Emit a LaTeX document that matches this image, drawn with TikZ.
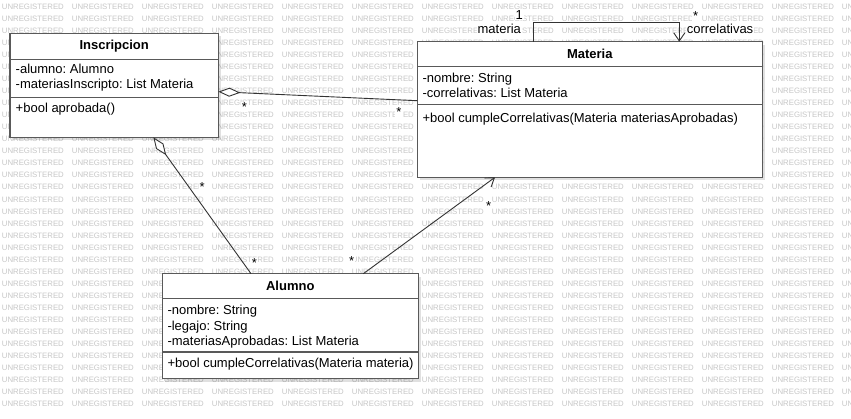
\documentclass[tikz,border=0pt]{standalone}
\usepackage{fontspec}
\setmainfont{Liberation Sans}
\frenchspacing
\usetikzlibrary{arrows.meta, calc, shadows}
\tikzset{
    my-class/.style={
        rectangle, draw=black!65, line width=1.5pt, fill=white, inner sep=0pt, outer sep=0pt,
        drop shadow={shadow xshift=3pt, shadow yshift=-3pt, fill=black, opacity=0.12}
    },
    my-divider/.style={
        draw=black!65, line width=1.5pt
    },
    my-title/.style={
        font=\fontsize{13}{15}\selectfont\bfseries, inner sep=0pt, anchor=base
    },
    my-member/.style={
        font=\fontsize{13}{15}\selectfont, inner sep=0pt, anchor=base west
    },
    my-link/.style={
        draw=black!80, line width=0.9pt
    },
    my-aggregation/.style={
        my-link, {Diamond[fill=white, length=22pt, width=9pt]}-
    },
    my-navigable/.style={
        my-link, -{Straight Barb[length=8pt, width=11pt]}
    },
    my-multiplicity/.style={
        font=\fontsize{13}{15}\selectfont, fill=white, inner sep=1pt
    },
    my-watermark/.style={
        font=\fontsize{7.8}{8}\selectfont, text=black!22, inner sep=0pt, anchor=west
    },
}

\begin{document}
\begin{tikzpicture}[x=1pt, y=-1pt]

        % PAGE AND WATERMARK (SKIP WORDS THAT A CLASS BOX HIDES) --------------------------------------
        \path[fill=white, use as bounding box] (0, 0) rectangle (851, 418);
        \foreach \row in {0,...,33} {
            \foreach \col in {0,...,12} {
                \pgfmathsetmacro\wx{1.7 + 70*\col}
                \pgfmathsetmacro\wy{6.7 + 12.04*\row}
                \pgfmathtruncatemacro\wmhidden{
                    ((\wx >= 10)    && (\wx + 62 <= 218.3) && (\wy >= 36.3)  && (\wy <= 134.3)) ||
                    ((\wx >= 417.3) && (\wx + 62 <= 762.3) && (\wy >= 44.7)  && (\wy <= 174.3)) ||
                    ((\wx >= 162.3) && (\wx + 62 <= 418.3) && (\wy >= 276.7) && (\wy <= 375.5))}
                \ifnum\wmhidden=0
                    \node[my-watermark] (WM-\row-\col) at (\wx, \wy) {UNREGISTERED};
                \fi
            }
        }

        % CLASS INSCRIPCION ---------------------------------------------------------------------------
        \node[my-class, minimum width=208.3pt, minimum height=104pt] (INSCRIPCION) at (114.2, 85.3) {};
        \draw[my-divider] ($(INSCRIPCION.north west) + (0, 26)$)   -- ($(INSCRIPCION.north east) + (0, 26)$);
        \draw[my-divider] ($(INSCRIPCION.north west) + (0, 64.4)$) -- ($(INSCRIPCION.north east) + (0, 64.4)$);
        \node[my-title]  (INSCTITLE) at ($(INSCRIPCION.north)      + (0, 16.3)$) {Inscripcion};
        \node[my-member] (INSCATTR1) at ($(INSCRIPCION.north west) + (5.5, 40.5)$) {-alumno: Alumno};
        \node[my-member] (INSCATTR2) at ($(INSCRIPCION.north west) + (5.5, 54.9)$) {-materiasInscripto: List Materia};
        \node[my-member] (INSCOPER1) at ($(INSCRIPCION.north west) + (5.5, 78.8)$) {+bool aprobada()};

        % CLASS MATERIA -------------------------------------------------------------------------------
        \node[my-class, minimum width=345pt, minimum height=135.6pt] (MATERIA) at (589.8, 109.5) {};
        \draw[my-divider] ($(MATERIA.north west) + (0, 25)$)   -- ($(MATERIA.north east) + (0, 25)$);
        \draw[my-divider] ($(MATERIA.north west) + (0, 62.6)$) -- ($(MATERIA.north east) + (0, 62.6)$);
        \node[my-title]  (MATTITLE) at ($(MATERIA.north)      + (0, 16.7)$) {Materia};
        \node[my-member] (MATATTR1) at ($(MATERIA.north west) + (5, 40.6)$) {-nombre: String};
        \node[my-member] (MATATTR2) at ($(MATERIA.north west) + (5, 55.4)$) {-correlativas: List Materia};
        \node[my-member] (MATOPER1) at ($(MATERIA.north west) + (5, 81)$)   {+bool cumpleCorrelativas(Materia materiasAprobadas)};

        % CLASS ALUMNO --------------------------------------------------------------------------------
        \node[my-class, minimum width=256pt, minimum height=104.8pt] (ALUMNO) at (290.3, 326.1) {};
        \draw[my-divider] ($(ALUMNO.north west) + (0, 25)$)   -- ($(ALUMNO.north east) + (0, 25)$);
        \draw[my-divider] ($(ALUMNO.north west) + (0, 78.3)$) -- ($(ALUMNO.north east) + (0, 78.3)$);
        \node[my-title]  (ALUTITLE) at ($(ALUMNO.north)      + (0, 16.7)$) {Alumno};
        \node[my-member] (ALUATTR1) at ($(ALUMNO.north west) + (5, 41)$)   {-nombre: String};
        \node[my-member] (ALUATTR2) at ($(ALUMNO.north west) + (5, 56.3)$) {-legajo: String};
        \node[my-member] (ALUATTR3) at ($(ALUMNO.north west) + (5, 71.6)$) {-materiasAprobadas: List Materia};
        \node[my-member] (ALUOPER1) at ($(ALUMNO.north west) + (5, 93.3)$) {+bool cumpleCorrelativas(Materia materia)};

        % CONNECTOR POINTS ----------------------------------------------------------------------------
        \coordinate[] (INSCEAST)   at ($(INSCRIPCION.north east) + (0, 58.4)$);
        \coordinate[] (INSCSOUTH)  at ($(INSCRIPCION.south west) + (143.3, 0)$);
        \coordinate[] (MATWEST)    at ($(MATERIA.north west)     + (0, 59)$);
        \coordinate[] (MATSOUTH)   at ($(MATERIA.south west)     + (77.7, 0)$);
        \coordinate[] (MATLOOPOUT) at ($(MATERIA.north west)     + (116, 0)$);
        \coordinate[] (MATLOOPIN)  at ($(MATERIA.north west)     + (262, 0)$);
        \coordinate[] (ALUNORTH1)  at ($(ALUMNO.north west)      + (88.7, 0)$);
        \coordinate[] (ALUNORTH2)  at ($(ALUMNO.north west)      + (201, 0)$);

        % INSCRIPCION - MATERIA
        \draw[my-aggregation] (INSCEAST) -- (MATWEST);
        \node[my-multiplicity] (M1) at ($(INSCEAST) + (26, 15.3)$)    {*};
        \node[my-multiplicity] (M2) at ($(MATWEST)  + (-18.3, 11.8)$) {*};

        % INSCRIPCION - ALUMNO
        \draw[my-aggregation] (INSCSOUTH) -- (ALUNORTH1);
        \node[my-multiplicity] (M3) at ($(INSCSOUTH) + (48.7, 49.7)$) {*};
        \node[my-multiplicity] (M4) at ($(ALUNORTH1) + (3.3, -10.7)$) {*};

        % ALUMNO - MATERIA
        \draw[my-navigable] (ALUNORTH2) -- (MATSOUTH);
        \node[my-multiplicity] (M5) at ($(ALUNORTH2) + (-11.6, -12.4)$) {*};
        \node[my-multiplicity] (M6) at ($(MATSOUTH)  + (-6.3, 29)$)     {*};

        % MATERIA - MATERIA (CORRELATIVAS)
        \draw[my-navigable] (MATLOOPOUT) |- ($(MATLOOPIN) + (0, -19.4)$) -- (MATLOOPIN);
        \node[my-multiplicity] (M7)   at ($(MATLOOPOUT) + (-14, -26.7)$)  {1};
        \node[my-multiplicity] (ROL1) at ($(MATLOOPOUT) + (-34, -12.7)$)  {materia};
        \node[my-multiplicity] (M8)   at ($(MATLOOPIN)  + (16.4, -25.4)$) {*};
        \node[my-multiplicity] (ROL2) at ($(MATLOOPIN)  + (40.7, -12.7)$) {correlativas};

    \end{tikzpicture}
\end{document}
